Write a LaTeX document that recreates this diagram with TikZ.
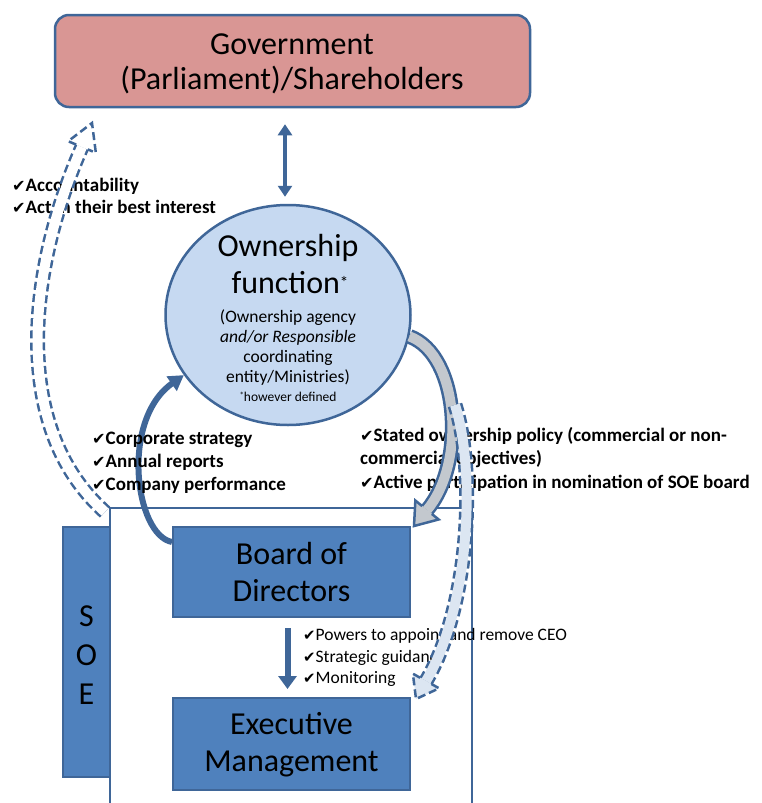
\documentclass[tikz,border=0pt]{standalone}
\usepackage{fontspec}
\setmainfont{Carlito}
\newfontfamily\symf{DejaVu Sans}
\usetikzlibrary{arrows.meta,calc,shapes.geometric}
\definecolor{govfill}{HTML}{D99694}
\definecolor{bord}{HTML}{3F6698}
\definecolor{boxfill}{HTML}{4F81BD}
\definecolor{circfill}{HTML}{C6D9F1}
\definecolor{grayfill}{HTML}{C3C8CE}
\definecolor{ltblue}{HTML}{DCE6F2}
\newcommand\chk{{\symf\scalebox{0.85}{✔}}}
% block arrow: #1 fill colour, #2 border options, #3 start, #4 c1, #5 c2, #6 head base, #7 tip
\newcommand\blkarrow[7]{%
  \draw[#2, line width=15pt] (#3) .. controls (#4) and (#5) .. (#6);
  \draw[#1, line width=10pt] (#3) .. controls (#4) and (#5) .. (#6);
  \fill[#1] ($(#6)!15pt!90:(#7)$) -- (#7) -- ($(#6)!15pt!-90:(#7)$) -- cycle;
  \draw[#2, line width=2.5pt, line join=miter] ($(#6)!6.25pt!90:(#7)$) -- ($(#6)!15pt!90:(#7)$) -- (#7) -- ($(#6)!15pt!-90:(#7)$) -- ($(#6)!6.25pt!-90:(#7)$);
}
\tikzset{
  bigtxt/.style={anchor=base, inner sep=0pt, font=\fontsize{32}{38}\selectfont},
  midtxt/.style={anchor=base, inner sep=0pt, font=\fontsize{17.5}{20}\selectfont},
  smalltxt/.style={anchor=base, inner sep=0pt, font=\fontsize{13.5}{15}\selectfont},
  cktxt/.style={anchor=base west, inner sep=0pt, font=\bfseries\fontsize{19}{23}\selectfont},
  lowtxt/.style={anchor=base west, inner sep=0pt, font=\fontsize{17.5}{21}\selectfont},
  bluebox/.style={draw=bord, line width=2pt, fill=boxfill, inner sep=0pt},
  dashborder/.style={draw=bord, dash pattern=on 8pt off 4pt},
  solidborder/.style={draw=bord},
}
\begin{document}
\begin{tikzpicture}[x=1pt,y=-1pt]
\useasboundingbox[fill=white] (0,0) rectangle (762,803);

% Government box
\node[draw=bord, line width=2.5pt, fill=govfill, rounded corners=14pt,
      minimum width=475pt, minimum height=92pt, inner sep=0pt] (gov) at (292.5,61) {};
\node[bigtxt] (govt1) at (292,54) {Government};
\node[bigtxt] (govt2) at (292,89) {(Parliament)/Shareholders};

% Ownership function ellipse
\node[ellipse, draw=bord, line width=2.5pt, fill=circfill, minimum width=245pt,
      minimum height=220pt, inner sep=0pt] (own) at (288,315) {};
\node[bigtxt] (ow1) at (288,256) {Ownership};
\node[bigtxt] (ow2) at (290,293) {function{\raisebox{5pt}{\fontsize{17}{17}\selectfont *}}};
\node[midtxt] (ow3) at (288,322) {(Ownership agency};
\node[midtxt] (ow4) at (288,342) {\itshape and/or Responsible};
\node[midtxt] (ow5) at (288,362) {coordinating};
\node[midtxt] (ow6) at (288,382) {entity/Ministries)};
\node[smalltxt] (ow7) at (288,401) {\raisebox{3pt}{\fontsize{9}{9}\selectfont *}however defined};

% double arrow government <-> ownership
\draw[bord, line width=4pt, {Triangle[length=11pt,width=14pt]}-{Triangle[length=11pt,width=14pt]},
      shorten <=16pt, shorten >=7pt] ([xshift=-3pt]own.north |- gov.south) -- ([xshift=-3pt]own.north);

% SOE frame
\coordinate (frtl) at (110,508);
\coordinate (frtr) at (472,508);
\draw[bord, line width=2.5pt] (110,803) -- (frtl) -- (frtr) -- (472,803);

% SOE bar
\node[bluebox, minimum width=47pt, minimum height=250pt] (soe) at (86.5,652) {};
\node[bigtxt] (soeS) at (86.5,626) {S};
\node[bigtxt] (soeO) at (86.5,665) {O};
\node[bigtxt] (soeE) at (86.5,704) {E};

% Board and Executive boxes
\node[bluebox, minimum width=237pt, minimum height=90pt] (board) at (291.5,572) {};
\node[bigtxt] (bd1) at (291.5,564) {Board of};
\node[bigtxt] (bd2) at (291.5,601) {Directors};
\node[bluebox, minimum width=237pt, minimum height=92pt] (exec) at (291.5,744) {};
\node[bigtxt] (ex1) at (291.5,734) {Executive};
\node[bigtxt] (ex2) at (291.5,771) {Management};

% board -> exec arrow
\draw[bord, line width=6pt, -{Triangle[length=13pt,width=18pt]}, shorten <=10pt, shorten >=8pt]
  ([xshift=-4pt]board.south) -- ([xshift=-4pt]exec.north);

% solid curved arrow board -> ownership
\draw[bord, line width=6pt, -{Triangle[length=15pt,width=17pt]}]
  ($(board.north west)+(0,16)$) .. controls (135,535) and (120,420) .. (own.210);

% check lists
\node[cktxt] (acc) at (12,191) {\chk Accountability};
\node[cktxt] (act) at (12,213) {\chk Act in their best interest};
\node[cktxt] (cs) at (92,444) {\chk Corporate strategy};
\node[cktxt] (ar) at (92,467) {\chk Annual reports};
\node[cktxt] (cp) at (92,490) {\chk Company performance};
\node[cktxt] (sop) at (360,441) {\chk Stated ownership policy (commercial or non-};
\node[cktxt] (coo) at (360,464) {commercial objectives)};
\node[cktxt] (apn) at (360,488) {\chk Active participation in nomination of SOE board};
\node[lowtxt] (pw) at (303,640) {\chk Powers to appoint and remove CEO};
\node[lowtxt] (sg) at (303,662) {\chk Strategic guidance};
\node[lowtxt] (mo) at (303,683) {\chk Monitoring};

% gray block arrow ownership -> board
\coordinate (gS) at (own.-10);
\coordinate (gT) at ($(board.north east)+(3,0)$);
\coordinate (gE) at (427,510);
\blkarrow{grayfill}{solidborder}{gS}{460,355}{466,464}{gE}{gT}

% dashed light-blue block arrow ownership -> executive
\coordinate (dS) at (455,405);
\coordinate (dT) at ($(exec.north east)+(5,2)$);
\coordinate (dE) at (426,681);
\blkarrow{ltblue}{dashborder}{dS}{476,470}{470,607}{dE}{dT}

% dashed white block arrow SOE -> government
\coordinate (lS) at ($(frtl)+(-5,4)$);
\coordinate (lT) at (92,123);
\coordinate (lE) at (82,147);
\blkarrow{white}{dashborder}{lS}{8,425}{30,265}{lE}{lT}
\end{tikzpicture}
\end{document}
